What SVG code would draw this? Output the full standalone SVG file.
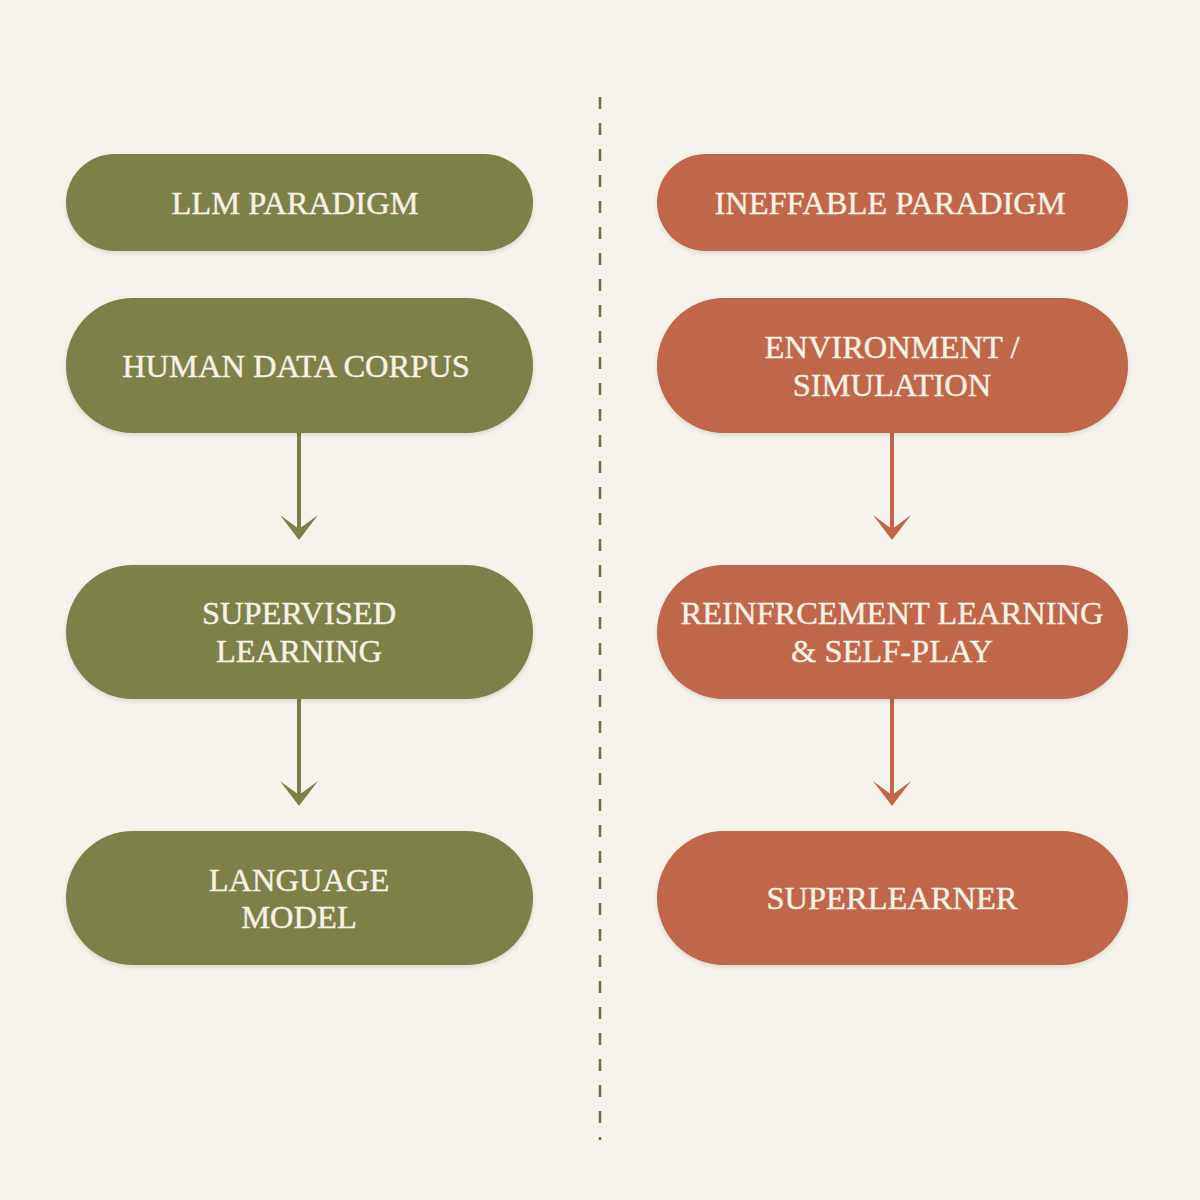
<svg xmlns="http://www.w3.org/2000/svg" width="1200" height="1200" viewBox="0 0 1200 1200">
<style>
.g{fill:#7d8049}
.o{fill:#bf664b}
.t{font-family:"Liberation Serif","DejaVu Serif",serif;font-size:32.5px;fill:#f7f2e4;stroke:#f7f2e4;stroke-width:0.4;text-anchor:middle}
.lg{stroke:#7d8049;stroke-width:4;fill:none}
.lo{stroke:#bf664b;stroke-width:4;fill:none}
.hg{fill:#7d8049}
.ho{fill:#bf664b}
</style>
<defs>
<filter id="sh" x="-10%" y="-20%" width="120%" height="150%">
<feDropShadow dx="0" dy="2" stdDeviation="2" flood-color="#000" flood-opacity="0.12"/>
</filter>
</defs>
<rect width="1200" height="1200" fill="#f6f4ea"/>
<line x1="600" y1="97" x2="600" y2="1140" stroke="#6e7048" stroke-width="2.5" stroke-dasharray="12 14"/>
<g id="connectors">
<line class="lg" x1="299" y1="433" x2="299" y2="532"/>
<polygon class="hg" points="280,515 299,529 318,515 299,540"/>
<line class="lg" x1="299" y1="699" x2="299" y2="798"/>
<polygon class="hg" points="280,781 299,795 318,781 299,806"/>
<line class="lo" x1="892" y1="433" x2="892" y2="532"/>
<polygon class="ho" points="873,515 892,529 911,515 892,540"/>
<line class="lo" x1="892" y1="699" x2="892" y2="798"/>
<polygon class="ho" points="873,781 892,795 911,781 892,806"/>
</g>
<g id="llm-paradigm"><rect class="g" filter="url(#sh)" x="66" y="154" width="467" height="97" rx="48.5"/><text class="t" x="295" y="214">LLM PARADIGM</text></g>
<g id="human-data"><rect class="g" filter="url(#sh)" x="66" y="298" width="467" height="135" rx="67"/><text class="t" x="296" y="377">HUMAN DATA CORPUS</text></g>
<g id="supervised"><rect class="g" filter="url(#sh)" x="66" y="565" width="467" height="134" rx="67"/><text class="t" x="299" y="624">SUPERVISED</text><text class="t" x="299" y="662">LEARNING</text></g>
<g id="language-model"><rect class="g" filter="url(#sh)" x="66" y="831" width="467" height="134" rx="67"/><text class="t" x="299" y="891">LANGUAGE</text><text class="t" x="299" y="928">MODEL</text></g>
<g id="ineffable-paradigm"><rect class="o" filter="url(#sh)" x="657" y="154" width="471" height="97" rx="48.5"/><text class="t" x="890" y="214">INEFFABLE PARADIGM</text></g>
<g id="environment"><rect class="o" filter="url(#sh)" x="657" y="298" width="471" height="135" rx="67"/><text class="t" x="892" y="358">ENVIRONMENT /</text><text class="t" x="892" y="396">SIMULATION</text></g>
<g id="reinforcement"><rect class="o" filter="url(#sh)" x="657" y="565" width="471" height="134" rx="67"/><text class="t" x="892" y="624">REINFRCEMENT LEARNING</text><text class="t" x="892" y="662">&amp; SELF-PLAY</text></g>
<g id="superlearner"><rect class="o" filter="url(#sh)" x="657" y="831" width="471" height="134" rx="67"/><text class="t" x="892" y="909">SUPERLEARNER</text></g>
</svg>
